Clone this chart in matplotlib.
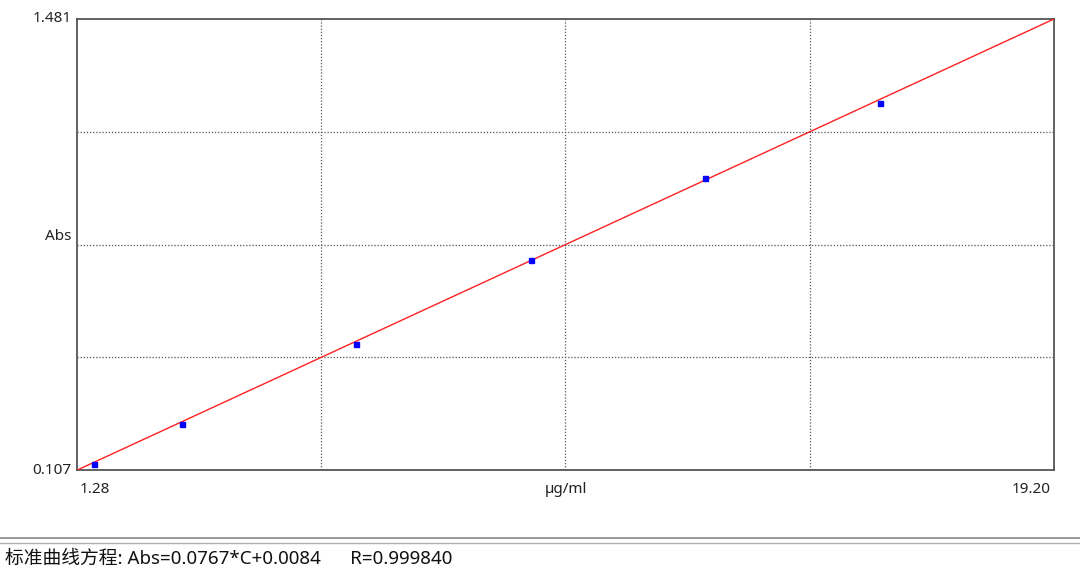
import matplotlib
matplotlib.use("Agg")
import matplotlib.pyplot as plt
from matplotlib.lines import Line2D

plt.rcParams["font.family"] = ["Noto Sans", "Noto Sans CJK SC", "DejaVu Sans"]

# standard curve data
conc = [1.6, 3.2, 6.4, 9.6, 12.8, 16.0]
absorb = [0.125, 0.247, 0.491, 0.747, 0.997, 1.224]
slope = 0.0767
intercept = 0.0084
r_value = "0.999840"
x_min, x_max = 1.28, 19.20
y_min, y_max = 0.107, 1.481
x_unit = "µg/ml"
y_name = "Abs"

fig = plt.figure(figsize=(10.8, 5.71), dpi=100)
ax = fig.add_axes([77 / 1080, 1 - 470 / 571, 977 / 1080, 451 / 571])

fit_x = [x_min, x_max]
fit_y = [slope * v + intercept for v in fit_x]
ax.plot(fit_x, fit_y, color="#ff2020", lw=1.0, zorder=3)
ax.plot(conc, absorb, ls="none", marker="s", ms=3.6, color="#0000ff",
        mec="#0000ff", zorder=4)

ax.set_xlim(x_min, x_max)
ax.set_ylim(y_min, y_max)

# grid at quarters
xs = [x_min + (x_max - x_min) * k / 4 for k in range(1, 4)]
ys = [y_min + (y_max - y_min) * k / 4 for k in range(1, 4)]
for v in xs:
    ax.axvline(v, color="#555555", lw=0.9, ls=(0, (1, 1.5)), zorder=1)
for v in ys:
    ax.axhline(v, color="#555555", lw=0.9, ls=(0, (1, 1.5)), zorder=1)

ax.set_xticks([])
ax.set_yticks([])
for s in ax.spines.values():
    s.set_color("#555555")
    s.set_linewidth(1.3)

txt = dict(fontsize=11, color="#222222")
ax.text(x_min + 0.04, y_min - 0.058, f"{x_min:.2f}", ha="left", va="center", **txt)
ax.text(x_max - 0.07, y_min - 0.058, f"{x_max:.2f}", ha="right", va="center", **txt)
ax.text((x_min + x_max) / 2, y_min - 0.058, x_unit, ha="center", va="center", **txt)
ax.text(x_min - 0.1, y_max, f"{y_max:.3f}", ha="right", va="center", **txt)
ax.text(x_min - 0.1, y_min, f"{y_min:.3f}", ha="right", va="center", **txt)
ax.text(x_min - 0.1, (y_min + y_max) / 2 + 0.025, y_name, ha="right", va="center", **txt)

# separator lines and equation footer
fig.add_artist(Line2D([0, 1], [1 - 538 / 571] * 2, color="#8a8a8a", lw=1.2))
fig.add_artist(Line2D([0, 1], [1 - 543 / 571] * 2, color="#b0b0b0", lw=1.0))
fig.text(5 / 1080, 1 - 559 / 571,
         f"标准曲线方程: Abs={slope}*C+{intercept}      R={r_value}",
         ha="left", va="center", fontsize=13.5, color="#111111")

fig.savefig("out.png", dpi=100)
